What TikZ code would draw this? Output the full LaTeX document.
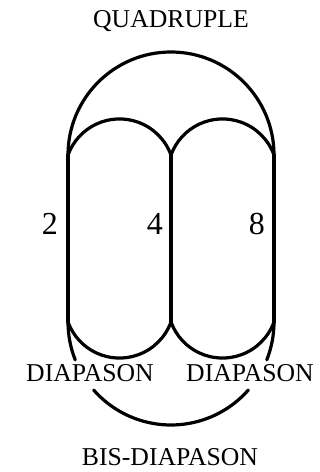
\documentclass[tikz,border=0pt]{standalone}
\usepackage{fontspec}
\setmainfont{Liberation Serif}
\usetikzlibrary{positioning}

\tikzset{
    curve/.style={line width=3.2pt, line cap=round},
    nametext/.style={font=\fontsize{25.7}{30}\selectfont, inner sep=0pt},
    numtext/.style={font=\fontsize{32}{36}\selectfont, inner sep=0pt}
}

\begin{document}
\begin{tikzpicture}[x=1pt, y=1pt]
    \useasboundingbox (0,0) rectangle (320,472);

    % Ends of the strings
    \coordinate (ltop) at (68,317);
    \coordinate (mtop) at (171,317);
    \coordinate (rtop) at (274,317);
    \coordinate (lbot) at (68,150);
    \coordinate (mbot) at (171,150);
    \coordinate (rbot) at (274,150);

    % Strings
    \draw[curve] (ltop) -- (lbot);
    \draw[curve] (mtop) -- (mbot);
    \draw[curve] (rtop) -- (rbot);

    % Diapason arcs
    \draw[curve] (ltop) arc[start angle=160, end angle=20, radius=54.8];
    \draw[curve] (mtop) arc[start angle=160, end angle=20, radius=54.8];
    \draw[curve] (lbot) arc[start angle=200, end angle=340, radius=54.8];
    \draw[curve] (mbot) arc[start angle=200, end angle=340, radius=54.8];

    % Quadruple arc
    \draw[curve] (ltop) arc[start angle=180, end angle=0, radius=103];

    % Bis-diapason arc, broken by the labels
    \draw[curve] (lbot) arc[start angle=180, end angle=201.6, radius=103];
    \draw[curve] (mbot) ++(221.3:103) arc[start angle=221.3, end angle=318.7, radius=103];
    \draw[curve] (mbot) ++(338.4:103) arc[start angle=338.4, end angle=360, radius=103];

    % Labels
    \node[nametext, anchor=base] (quad) at (171,444) {QUADRUPLE};
    \node[nametext, anchor=base] (diapl) at (90,90) {DIAPASON};
    \node[nametext, anchor=base] (diapr) at (250,90) {DIAPASON};
    \node[nametext, anchor=base] (bis) at (170,6) {BIS-DIAPASON};

    % Numbers
    \node[numtext, anchor=base east] (two) at (58,237) {2};
    \node[numtext, anchor=base east] (four) at (163,237) {4};
    \node[numtext, anchor=base east] (eight) at (265,237) {8};
\end{tikzpicture}
\end{document}
